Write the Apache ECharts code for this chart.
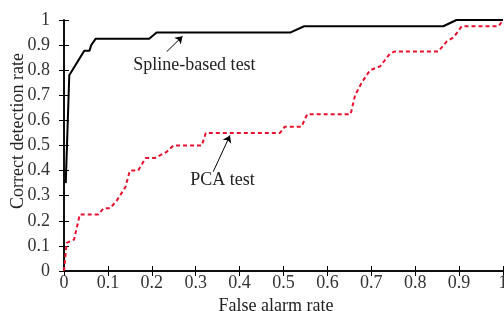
<!DOCTYPE html>
<html>
<head>
<meta charset="utf-8">
<script src="https://cdn.jsdelivr.net/npm/echarts@6/dist/echarts.min.js"></script>
<style>
  html, body { margin: 0; padding: 0; background: #fff; }
  #chart { width: 504px; height: 311px; }
</style>
</head>
<body>
<div id="chart"></div>
<script>
// ROC curves: spline-based test vs PCA test
var splineX = [0.004, 0.012, 0.046, 0.058, 0.062, 0.072, 0.194, 0.211, 0.515, 0.547, 0.864, 0.894, 1]
var splineY = [0.35, 0.78, 0.877, 0.877, 0.9, 0.925, 0.925, 0.95, 0.95, 0.975, 0.975, 1, 1]

var pcaX = [0, 0.006, 0.023, 0.036, 0.078, 0.09, 0.105, 0.12, 0.14, 0.15, 0.169, 0.186, 0.207, 0.234, 0.249,
  0.314, 0.323, 0.492, 0.503, 0.541, 0.554, 0.653, 0.663, 0.678, 0.697, 0.72, 0.743, 0.754,
  0.853, 0.872, 0.887, 0.906, 0.99, 1]
var pcaY = [0, 0.112, 0.125, 0.225, 0.225, 0.25, 0.25, 0.28, 0.335, 0.4, 0.4, 0.45, 0.45, 0.475, 0.5,
  0.5, 0.55, 0.55, 0.575, 0.575, 0.625, 0.625, 0.7, 0.75, 0.8, 0.815, 0.867, 0.875,
  0.875, 0.915, 0.93, 0.975, 0.975, 1]

var tickLabels = ['0', '0.1', '0.2', '0.3', '0.4', '0.5', '0.6', '0.7', '0.8', '0.9', '1']

// annotations (data coords): text position, arrow start -> arrow tip
var notes = [
  { text: 'Spline-based test', at: [0.297, 0.82], from: [0.234, 0.874], to: [0.27, 0.935] },
  { text: 'PCA test', at: [0.361, 0.36], from: [0.34, 0.396], to: [0.378, 0.54] }
]

var font = "'Liberation Serif', 'DejaVu Serif', serif"
var chart = echarts.init(document.getElementById('chart'))

function zip(xs, ys) {
  return xs.map(function (x, i) { return [x, ys[i]] })
}
function tickFmt(v) {
  return tickLabels[Math.round(v * 10)]
}

var axisCommon = {
  type: 'value',
  min: 0,
  max: 1,
  interval: 0.1,
  axisLine: { show: true, lineStyle: { color: '#000', width: 1.5 } },
  axisTick: { show: true, inside: true, length: 5, lineStyle: { color: '#000', width: 1 } },
  splitLine: { show: false }
}

chart.setOption({
  animation: false,
  grid: { left: 64, right: 1, top: 20, bottom: 40, containLabel: false, outerBoundsMode: 'none' },
  xAxis: [
    Object.assign({}, axisCommon, {
      position: 'bottom',
      name: 'False alarm rate',
      nameLocation: 'middle',
      nameGap: 23,
      nameTextStyle: { fontFamily: font, fontSize: 18, color: '#222', padding: [0, 15, 0, 0] },
      axisLabel: { formatter: tickFmt, fontFamily: font, fontSize: 18, color: '#333', margin: 3 }
    }),
    Object.assign({}, axisCommon, { position: 'top', axisLabel: { show: false } })
  ],
  yAxis: [
    Object.assign({}, axisCommon, {
      position: 'left',
      axisLabel: { formatter: tickFmt, fontFamily: font, fontSize: 18, color: '#333', margin: 14 }
    }),
    Object.assign({}, axisCommon, { position: 'right', axisLabel: { show: false } })
  ],
  series: [
    {
      name: 'PCA test',
      type: 'line',
      data: zip(pcaX, pcaY),
      showSymbol: false,
      clip: false,
      lineStyle: { color: '#e8112d', width: 2, type: [4, 3] }
    },
    {
      name: 'Spline-based test',
      type: 'line',
      data: zip(splineX, splineY),
      showSymbol: false,
      clip: false,
      lineStyle: { color: '#000', width: 2 },
      markLine: {
        silent: true,
        symbol: ['none', 'arrow'],
        symbolSize: 7,
        lineStyle: { color: '#000', width: 1, type: 'solid' },
        label: { show: false },
        data: notes.map(function (n) {
          return [{ coord: n.from }, { coord: n.to }]
        })
      },
      markPoint: {
        silent: true,
        symbol: 'rect',
        symbolSize: 1,
        itemStyle: { color: 'rgba(0,0,0,0)' },
        label: { show: true, position: 'inside', fontFamily: font, fontSize: 18, color: '#222' },
        data: notes.map(function (n) {
          return { coord: n.at, label: { formatter: n.text } }
        })
      }
    }
  ],
  graphic: [
    {
      type: 'text',
      x: 18,
      y: 131,
      rotation: Math.PI / 2,
      style: {
        text: 'Correct detection rate',
        font: '18px ' + font,
        fill: '#222',
        align: 'center',
        verticalAlign: 'middle'
      }
    }
  ]
})
</script>
</body>
</html>
